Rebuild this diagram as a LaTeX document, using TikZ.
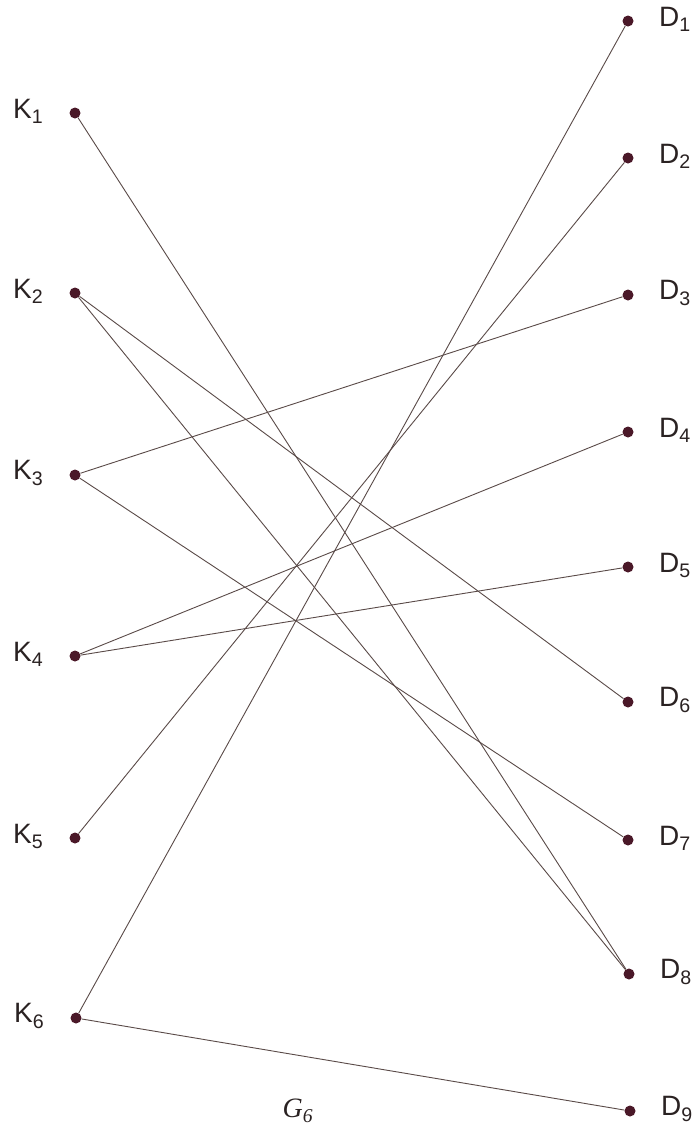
\documentclass[tikz,border=0pt]{standalone}
\usepackage{fontspec}
\setmainfont{Liberation Sans}
\newfontfamily\capfont{Liberation Serif}
\definecolor{dotc}{HTML}{4A1828}
\definecolor{edgec}{HTML}{5A4A48}
\definecolor{labc}{HTML}{2A2222}
\begin{document}
\begin{tikzpicture}[x=1pt,y=-1pt,
  vtx/.style={circle,fill=dotc,inner sep=0pt,minimum size=11pt},
  lab/.style={text=labc,font=\fontsize{28}{32}\selectfont,inner sep=0pt},
  edge/.style={draw=edgec,line width=0.9pt}]
\useasboundingbox (0,0) rectangle (693,1133);
\fill[white] (0,0) rectangle (693,1133);
% left vertices
\node[vtx] (K1) at (75,113) {};
\node[vtx] (K2) at (75,293) {};
\node[vtx] (K3) at (75,475) {};
\node[vtx] (K4) at (75,656) {};
\node[vtx] (K5) at (75,838) {};
\node[vtx] (K6) at (76,1018) {};
% right vertices
\node[vtx] (D1) at (628,21) {};
\node[vtx] (D2) at (628,158) {};
\node[vtx] (D3) at (628,295) {};
\node[vtx] (D4) at (628,432) {};
\node[vtx] (D5) at (628,567) {};
\node[vtx] (D6) at (628,702) {};
\node[vtx] (D7) at (628,840) {};
\node[vtx] (D8) at (629,974) {};
\node[vtx] (D9) at (630,1111) {};
% labels
\foreach \i in {1,...,6} {
  \node[lab,anchor=west] (lK\i) at ([xshift=-62pt,yshift=2pt]K\i) {K\textsubscript{\i}};
}
\foreach \i in {1,...,9} {
  \node[lab,anchor=west] (lD\i) at ([xshift=31pt,yshift=2pt]D\i) {D\textsubscript{\i}};
}
% edges
\draw[edge] (K1) -- (D8);
\draw[edge] (K2) -- (D6);
\draw[edge] (K2) -- (D8);
\draw[edge] (K3) -- (D3);
\draw[edge] (K3) -- (D7);
\draw[edge] (K4) -- (D4);
\draw[edge] (K4) -- (D5);
\draw[edge] (K5) -- (D2);
\draw[edge] (K6) -- (D1);
\draw[edge] (K6) -- (D9);
% caption
\node[text=labc,font=\capfont\itshape\fontsize{28}{32}\selectfont] (cap) at (298,1111) {G\textsubscript{6}};
\end{tikzpicture}
\end{document}
